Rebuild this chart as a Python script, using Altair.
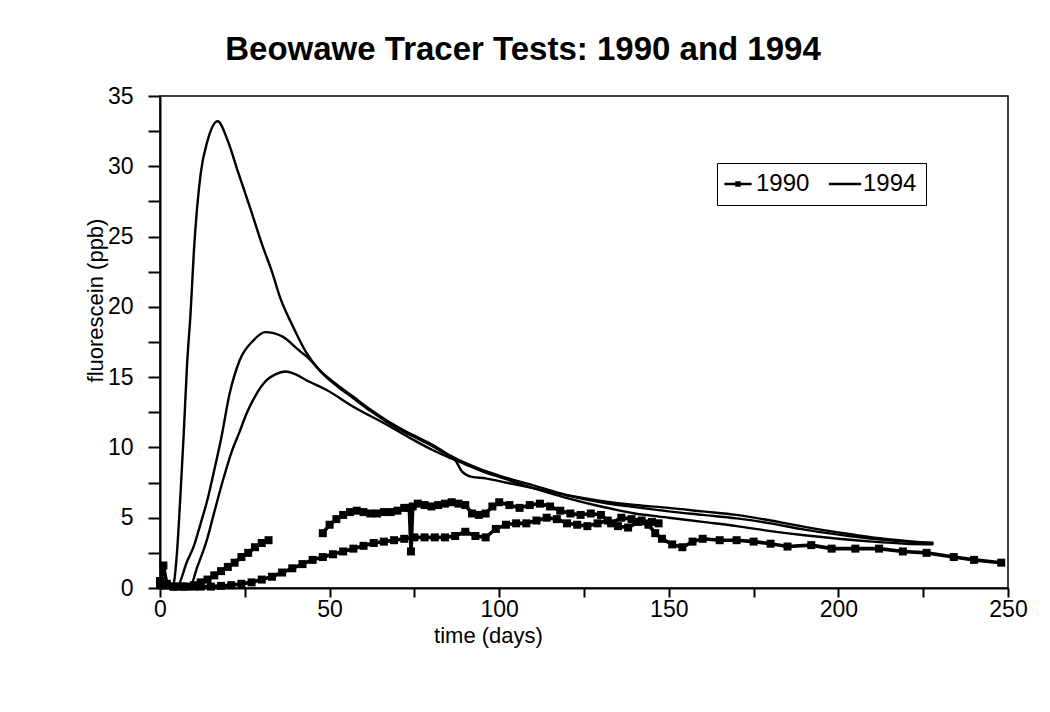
import altair as alt
import pandas as pd

# ---------------- data ----------------
# 1994 tests (plain lines)
days_a = [0, 3, 4, 5, 6, 7, 8, 9, 10, 12, 14, 17, 20, 23, 26.5, 30, 33, 35.5, 39, 43, 47, 52, 57, 62,
          67, 72, 77, 81, 85, 87, 89, 92, 96, 100, 110, 120, 130, 140, 150, 160, 170, 180, 190, 200,
          210, 220, 228]
vals_a = [0, 0, 0.3, 2.5, 6.5, 11, 16, 19.5, 24, 29.5, 31.8, 33.2, 31.8, 29.6, 27.1, 24.5, 22.5, 20.6,
          18.7, 16.8, 15.5, 14.4, 13.5, 12.6, 11.8, 11.1, 10.5, 10.0, 9.4, 9.1, 8.3, 7.9, 7.8, 7.6, 7.1,
          6.6, 6.2, 5.9, 5.7, 5.45, 5.2, 4.8, 4.35, 3.95, 3.6, 3.35, 3.2]

days_b = [0, 5, 8, 10, 12, 14, 16, 18, 20.5, 23.5, 27.5, 31, 36, 41, 44, 47, 52, 57, 62, 67, 72, 77,
          81, 85, 90, 95, 100, 110, 120, 130, 140, 150, 160, 170, 180, 190, 200, 210, 220, 228]
vals_b = [0, 0.1, 1.9, 3.0, 4.6, 6.3, 8.4, 10.6, 13.8, 16.2, 17.6, 18.2, 17.9, 16.9, 16.3, 15.5, 14.5,
          13.6, 12.7, 11.9, 11.2, 10.6, 10.1, 9.5, 8.9, 8.4, 8.0, 7.3, 6.6, 6.1, 5.75, 5.45, 5.2, 4.95,
          4.6, 4.15, 3.8, 3.5, 3.3, 3.2]

days_c = [0, 8.8, 11, 13.8, 16, 18.6, 21, 23.6, 25.5, 27.5, 31.5, 34, 37, 40, 43, 49, 57, 67, 75,
          80.5, 85, 90, 95, 100, 110, 120, 130, 140, 150, 160, 170, 180, 190, 200, 210, 220, 228]
vals_c = [0, 0.1, 1.5, 3.4, 5.4, 7.7, 9.6, 11.2, 12.4, 13.4, 14.8, 15.2, 15.4, 15.2, 14.8, 14.1, 12.9,
          11.6, 10.5, 9.8, 9.3, 8.8, 8.3, 7.9, 7.1, 6.4, 5.8, 5.3, 5.0, 4.7, 4.4, 4.05, 3.75, 3.5, 3.3,
          3.15, 3.1]

# 1990 tests (lines with square markers)
days_d = [0, 1, 2, 4, 6, 8, 10, 12, 15, 18, 21, 24, 27, 30, 33, 36, 39, 42, 45, 48, 51, 54, 57, 60,
          63, 66, 69, 72, 75, 78, 81, 84, 87, 90, 93, 96, 99, 102, 105, 108, 111, 114, 117, 120, 123,
          126, 129, 132, 135, 138, 141, 144, 146, 148, 151, 154, 157, 160, 165, 170, 175, 180, 185,
          192, 198, 205, 212, 219, 226, 234, 240, 248]
vals_d = [0.5, 0.3, 0.2, 0.1, 0.1, 0.1, 0.1, 0.1, 0.1, 0.15, 0.2, 0.3, 0.4, 0.6, 0.8, 1.1, 1.4, 1.7,
          2.0, 2.2, 2.4, 2.6, 2.8, 3.0, 3.2, 3.3, 3.4, 3.5, 3.6, 3.6, 3.6, 3.6, 3.7, 4.0, 3.7, 3.6,
          4.2, 4.5, 4.6, 4.6, 4.8, 5.0, 4.9, 4.6, 4.5, 4.4, 4.6, 4.8, 4.4, 4.3, 4.7, 4.5, 3.9, 3.5,
          3.1, 2.9, 3.3, 3.5, 3.4, 3.4, 3.3, 3.15, 2.95, 3.05, 2.8, 2.8, 2.8, 2.6, 2.5, 2.2, 2.0, 1.8]

days_e = [48, 50, 52, 54, 56, 58, 60, 62, 64, 66, 68, 70, 72, 73.5, 74, 74.5, 76, 78, 80, 82, 84, 86,
          88, 90, 92, 94, 96, 98, 100, 103, 106, 109, 112, 115, 118, 121, 124, 127, 130, 133, 136,
          139, 142, 145, 147]
vals_e = [3.9, 4.5, 4.9, 5.2, 5.4, 5.5, 5.4, 5.3, 5.3, 5.4, 5.4, 5.5, 5.7, 5.7, 2.6, 5.8, 6.0, 5.9,
          5.8, 5.9, 6.0, 6.1, 6.0, 5.9, 5.3, 5.2, 5.3, 5.8, 6.1, 5.9, 5.7, 5.9, 6.0, 5.8, 5.5, 5.3,
          5.2, 5.3, 5.2, 4.6, 5.0, 4.9, 4.8, 4.7, 4.6]

days_f = [0, 1, 2, 4, 7, 10, 12, 14, 16, 18, 20, 22, 24, 26, 28, 30, 32]
vals_f = [0.2, 1.6, 0.3, 0.1, 0.1, 0.2, 0.4, 0.6, 0.9, 1.2, 1.5, 1.8, 2.2, 2.5, 2.9, 3.2, 3.4]

series = [
    ("1994-a", "1994", days_a, vals_a),
    ("1994-b", "1994", days_b, vals_b),
    ("1994-c", "1994", days_c, vals_c),
    ("1990-d", "1990", days_d, vals_d),
    ("1990-e", "1990", days_e, vals_e),
    ("1990-f", "1990", days_f, vals_f),
]
rows = []
for name, year, ds, vs in series:
    for d, v in zip(ds, vs):
        rows.append({"series": name, "year": year, "day": d, "value": v})
df = pd.DataFrame(rows)

FONT = "Liberation Sans"

x = alt.X("day:Q",
          scale=alt.Scale(domain=[0, 250], nice=False, zero=True),
          axis=alt.Axis(values=list(range(0, 251, 25)),
                        labelExpr="datum.value % 50 == 0 ? datum.label : ''",
                        title="time (days)", titleX=328, titleY=47, titleBaseline="middle",
                        labelPadding=1, tickSize=9))
y = alt.Y("value:Q",
          scale=alt.Scale(domain=[0, 35], nice=False),
          axis=alt.Axis(values=[i * 2.5 for i in range(15)],
                        labelExpr="datum.value % 5 == 0 ? datum.label : ''",
                        title="fluorescein (ppb)", titleX=-58, titleY=204,
                        titleBaseline="alphabetic", titleAlign="center",
                        labelPadding=15, tickSize=12))

base = alt.Chart(df)

lines94 = base.transform_filter("datum.year == '1994'").mark_line(
    color="black", strokeWidth=2.4, interpolate="monotone").encode(x=x, y=y, detail="series:N")
lines90 = base.transform_filter("datum.year == '1990'").mark_line(
    color="black", strokeWidth=3.6).encode(x=x, y=y, detail="series:N")
pts90 = base.transform_filter("datum.year == '1990'").mark_square(
    color="black", size=64, opacity=1).encode(x=x, y=y)

path90 = "M-1.6,0H1.6M-0.18,-0.18H0.18V0.18H-0.18Z"
path94 = "M-1.9,0H1.9"
legend_layer = base.mark_point(filled=False, color="black", strokeWidth=2.4, opacity=0).encode(
    x=x, y=y,
    shape=alt.Shape("year:N",
                    scale=alt.Scale(domain=["1990", "1994"], range=[path90, path94]),
                    legend=alt.Legend(title=None, orient="none", legendX=557, legendY=67,
                                      direction="horizontal", strokeColor="black",
                                      fillColor="white", padding=9,
                                      labelFontSize=24, labelFont=FONT, labelColor="black",
                                      symbolSize=290, symbolOpacity=1, symbolStrokeWidth=2.4,
                                      symbolStrokeColor="black", columnPadding=14,
                                      labelOffset=6)))

chart = alt.layer(lines94, lines90, pts90, legend_layer).properties(
    width=848, height=492,
    autosize=alt.AutoSizeParams(type="none"),
    padding={"left": 152, "top": 88, "right": 34, "bottom": 110},
    title=alt.TitleParams("Beowawe Tracer Tests: 1990 and 1994", font=FONT, fontSize=33,
                          fontWeight="bold", color="black", anchor="middle", dx=-61, dy=42,
                          baseline="alphabetic", offset=34),
).configure_view(stroke="black", strokeWidth=1.5).configure_axis(
    grid=False, domainColor="black", domainWidth=2, tickColor="black", tickWidth=2,
    labelFont=FONT, labelFontSize=23, labelColor="black",
    titleFont=FONT, titleFontSize=22, titleFontWeight="normal", titleColor="black",
    labelFlush=False, labelOverlap=False)

chart.save("out.html", embed_options={"renderer": "svg", "actions": False})
